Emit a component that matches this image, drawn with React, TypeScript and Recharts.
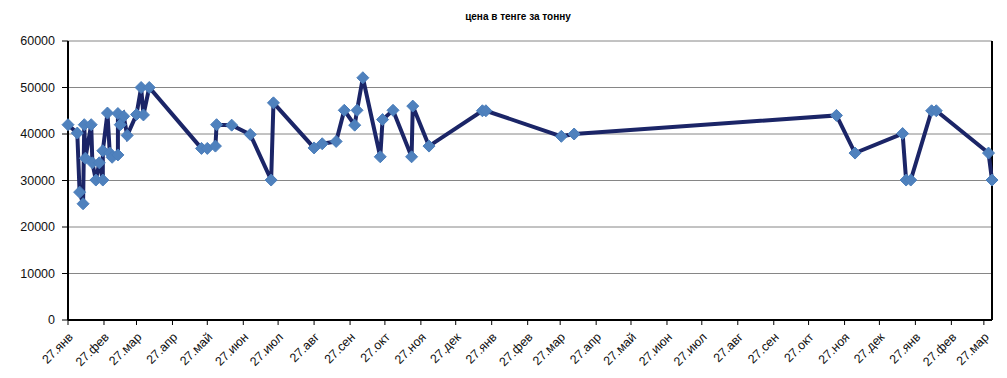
import React from "react";
import { LineChart, Line, XAxis, YAxis, CartesianGrid, ReferenceLine } from "recharts";

// days since 27 Jan of the first year
const dayOffsets = [
  0, 8, 10, 13, 14, 15, 20, 21, 24, 27, 30, 30, 34, 36, 38, 43, 43, 45, 48, 51,
  59, 63, 65, 70, 115, 120, 127, 128, 141, 157, 175, 177, 212, 219, 231, 238, 247, 249, 254, 269,
  271, 280, 296, 297, 311, 357, 360, 425, 436, 662, 678, 719, 722, 726, 744, 748, 793, 796,
];
const prices = [
  42000, 40200, 27500, 25000, 42000, 34800, 42000, 33800, 30100, 33800, 30100, 36400, 44500, 35900, 35000, 35500, 44400, 42000, 43800, 39700,
  44200, 50000, 44100, 50000, 36900, 36900, 37400, 42000, 41900, 39900, 30100, 46700, 37000, 37900, 38400, 45100, 41900, 45100, 52100, 35100,
  43100, 45100, 35100, 46000, 37400, 45000, 45000, 39500, 40000, 44000, 35900, 40100, 30100, 30100, 45000, 45000, 35900, 30100,
];
const monthLabels = [
  "27.янв", "27.фев", "27.мар", "27.апр", "27.май", "27.июн", "27.июл", "27.авг", "27.сен", "27.окт", "27.ноя", "27.дек",
  "27.янв", "27.фев", "27.мар", "27.апр", "27.май", "27.июн", "27.июл", "27.авг", "27.сен", "27.окт", "27.ноя", "27.дек",
  "27.янв", "27.фев", "27.мар",
];
const yTicks = [0, 10000, 20000, 30000, 40000, 50000, 60000];
const title = "цена в тенге за тонну";

const START = Date.UTC(2009, 0, 27);
const DAY = 86400000;
const xTicks = monthLabels.map((_, i) => Math.round((Date.UTC(2009, i, 27) - START) / DAY));
const labelByDay: Record<number, string> = {};
xTicks.forEach((d, i) => (labelByDay[d] = monthLabels[i]));

const data = dayOffsets.map((d, i) => ({ day: d, price: prices[i] }));
const maxDay = dayOffsets[dayOffsets.length - 1];

const FONT = "'Liberation Sans', Arial, sans-serif";

const Diamond = (props: any) => {
  const { cx, cy } = props;
  if (cx == null || cy == null) return null;
  const r = 6;
  return (
    <polygon
      points={`${cx},${cy - r} ${cx + r},${cy} ${cx},${cy + r} ${cx - r},${cy}`}
      fill="#4F81BD"
      stroke="#4A7EBB"
      strokeWidth={1}
    />
  );
};

const XTick = (props: any) => {
  const { x, y, payload } = props;
  const ax = x + 3;
  const ay = y + 8;
  return (
    <text
      x={ax}
      y={ay}
      transform={`rotate(-45 ${ax} ${ay})`}
      textAnchor="end"
      dominantBaseline="central"
      fontFamily={FONT}
      fontSize={12.5}
      fill="#111"
    >
      {labelByDay[payload.value]}
    </text>
  );
};

export default function App() {
  return (
    <div style={{ position: "absolute", left: 0, top: 0, width: 1007, height: 378, background: "#fff" }}>
      <div
        style={{
          position: "absolute",
          left: 0,
          width: 1036,
          top: 11,
          textAlign: "center",
          fontFamily: FONT,
          fontWeight: "bold",
          fontSize: 10,
          color: "#000",
        }}
      >
        {title}
      </div>
      <LineChart width={1007} height={378} data={data} margin={{ top: 41, right: 15, bottom: 0, left: 0 }}>
        <CartesianGrid vertical={false} stroke="#868686" strokeWidth={1} />
        <XAxis
          dataKey="day"
          type="number"
          domain={[0, maxDay]}
          ticks={xTicks}
          interval={0}
          height={58}
          tick={<XTick />}
          tickSize={5}
          axisLine={{ stroke: "#000", strokeWidth: 2 }}
          tickLine={{ stroke: "#000" }}
        />
        <YAxis
          type="number"
          domain={[0, 60000]}
          ticks={yTicks}
          interval={0}
          width={68}
          tickSize={6}
          tickMargin={7}
          axisLine={{ stroke: "#000", strokeWidth: 2 }}
          tickLine={{ stroke: "#000" }}
          tick={{ fontFamily: FONT, fontSize: 12.5, fill: "#111" }}
        />
        <ReferenceLine x={maxDay} stroke="#000" strokeWidth={2} />
        <Line
          dataKey="price"
          stroke="#1B2567"
          strokeWidth={4}
          dot={<Diamond />}
          activeDot={false}
          isAnimationActive={false}
        />
      </LineChart>
    </div>
  );
}
